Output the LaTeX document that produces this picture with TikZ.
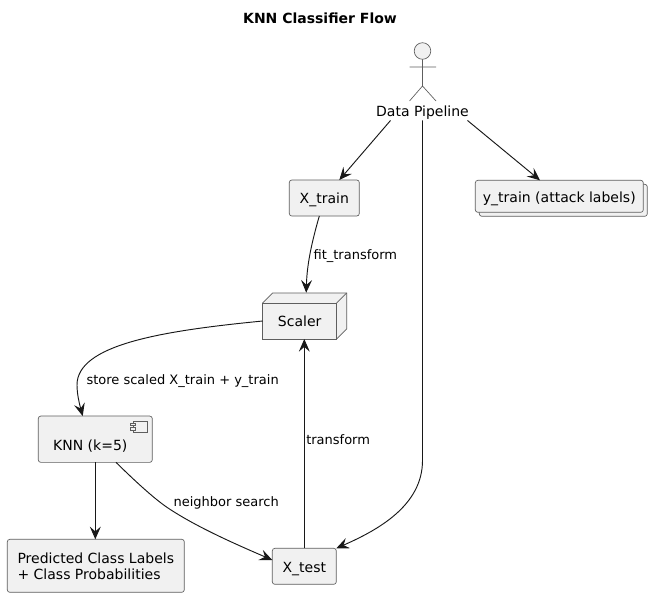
\documentclass[tikz,border=0pt]{standalone}
\usepackage{fontspec}
\setmainfont{DejaVu Sans}
\usetikzlibrary{arrows.meta,calc}
\definecolor{ink}{HTML}{181818}
\definecolor{rim}{HTML}{5E5E5E}
\definecolor{boxfill}{HTML}{F1F1F1}
\definecolor{txt}{HTML}{000000}
\def\px{0.75pt}
\tikzset{
  x=0.75pt,y=-0.75pt,
  base/.style={draw=rim,fill=boxfill,line width=0.5pt,inner sep=0pt,outer sep=0pt,font=\fontsize{10.5pt}{12pt}\selectfont,text=txt},
  oneline/.style={text height=9.9pt,text depth=1.1pt},
  rbox/.style={base,rectangle,rounded corners=1.9pt,minimum width=#1*\px},
  rbox/.default=70,
  plainedge/.style={draw=ink,line width=0.7pt},
  edge/.style={plainedge,-{Stealth[length=9.5pt,width=8.2pt,inset=3.6pt]}},
  lab/.style={inner sep=0pt,anchor=base west,text=txt,font=\fontsize{9.75pt}{12pt}\selectfont},
  txtlab/.style={inner sep=0pt,anchor=base,text=txt,font=\fontsize{10.5pt}{12pt}\selectfont},
}
\begin{document}
\begin{tikzpicture}
\useasboundingbox (0,0) rectangle (652,597);
\fill[white] (0,0) rectangle (652,597);
\node[txtlab,font=\fontsize{10.5pt}{12pt}\selectfont\bfseries] (title) at (320,23.5) {KNN Classifier Flow};

% actor
\node[base,circle,minimum size=16.6*\px] (head) at (422.5,51) {};
\coordinate (hip) at (422.5,86);
\draw[draw=rim,line width=0.5pt] (head.south) -- (hip) (409.5,67) -- (436,67) (409.5,101) -- (hip) -- (436,101);
\node[txtlab] (dp) at (422.5,116.3) {Data Pipeline};

% boxes
\node[rbox=168,minimum height=32*\px] (yback) at (563.3,200.3) {};
\node[rbox=168,minimum height=32*\px,oneline] (ytrain) at (559.3,196.3) {y\_train (attack labels)};
\node[rbox=70,minimum height=36*\px,oneline] (xtrain) at (324.3,198) {X\_train};
\node[rbox=64,minimum height=36*\px,oneline] (xtest) at (304.3,566.3) {X\_test};
\node[rbox=177,minimum height=53*\px,align=left] (pred) at (95.8,565.8) {Predicted Class Labels\\+ Class Probabilities};

% scaler
\path[base] (262.7,303) -- ++(10,-10) -- ++(74,0) -- ++(0,36) -- ++(-10,10) -- cycle;
\node[base,rectangle,minimum width=74*\px,minimum height=36*\px,oneline] (scaler) at (299.7,321) {Scaler};
\draw[draw=rim,line width=0.5pt] (scaler.north east) -- ++(10,-10);

% knn
\node[base,rectangle,rounded corners=1.9pt,minimum width=114*\px,minimum height=46.3*\px] (knn) at (95.3,439.2) {};
\node[txtlab] (knnlab) at (90.3,450.5) {KNN (k=5)};
\draw[base] (133,421) rectangle (147.7,432);
\draw[base] (130.7,423) rectangle (135.3,425.6);
\draw[base] (130.7,427.4) rectangle (135.3,430);

% connectors
\draw[edge] ([xshift=-32*\px,yshift=-1*\px]dp.south) -- ([xshift=15*\px]xtrain.north);
\draw[edge] ([xshift=45*\px,yshift=-1*\px]dp.south) -- ([xshift=-19.3*\px]ytrain.north);
\draw[edge] ([yshift=-1*\px]dp.south) -- ++(0,340) .. controls ++(0,45) and (378,530) .. (xtest.north east);
\draw[edge] ([xshift=-5*\px]xtrain.south) .. controls (313,238) and (307,262) .. ([xshift=6.5*\px]scaler.north |- 0,292.7);
\draw[edge] (scaler.west) .. controls (160,331) and (77,345) .. (77,385) .. controls (77,395) and (80,406) .. ([xshift=-12.6*\px]knn.north);
\draw[edge] (xtest.north) -- (scaler.south -| xtest.north);
\draw[edge] (knn.south) -- (pred.north -| knn.south);
\draw[edge] ([xshift=20.7*\px]knn.south) .. controls (138,484) and (156,500) .. (168,508) .. controls (198,528) and (240,546) .. ([yshift=-2.5*\px]xtest.west |- 0,557.5);

% labels
\node[lab] (l1) at (313.3,259) {fit\_transform};
\node[lab] (l2) at (86.3,384.2) {store scaled X\_train + y\_train};
\node[lab] (l3) at (306,444.8) {transform};
\node[lab] (l4) at (173.3,506.2) {neighbor search};
\end{tikzpicture}
\end{document}
